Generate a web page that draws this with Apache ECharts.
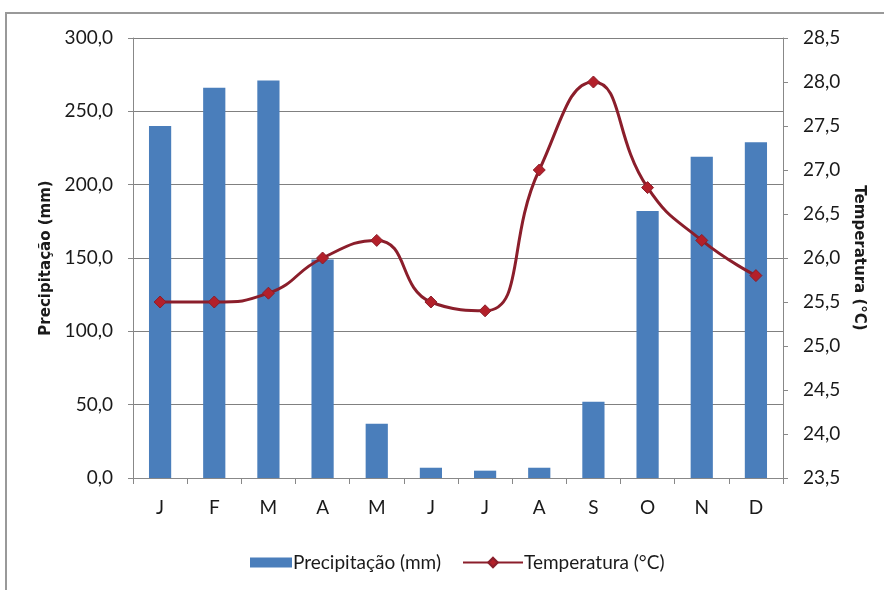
<!DOCTYPE html>
<html><head><meta charset="utf-8">
<script src="https://cdn.jsdelivr.net/npm/echarts@6/dist/echarts.min.js"></script>
<style>html,body{margin:0;padding:0;background:#fff}#c{width:884px;height:590px}</style>
</head><body><div id="c"></div>
<script>
const months = ['J','F','M','A','M','J','J','A','S','O','N','D'];
const precipitacao = [240, 266, 271, 149, 37, 7, 5, 7, 52, 182, 219, 229];
const temperatura = [25.5, 25.5, 25.6, 26.0, 26.2, 25.5, 25.4, 27.0, 28.0, 26.8, 26.2, 25.8];
const fmt = v => v.toFixed(1).replace('.', ',');
const tickFont = {fontFamily:'Lato,"Noto Sans",sans-serif', fontSize:19, color:'#1a1a1a'};
const titleFont = {fontFamily:'"DejaVu Sans",sans-serif', fontWeight:'bold', fontSize:15, color:'#1a1a1a'};
const chart = echarts.init(document.getElementById('c'));
chart.setOption({
  animation:false,
  backgroundColor:'#fff',
  graphic:[{type:'rect', shape:{x:6,y:13,width:900,height:600}, style:{fill:'none', stroke:'#999', lineWidth:2}}],
  grid:{left:133, right:101, top:38, bottom:112},
  legend:[
    {left:245, top:548, itemWidth:42, itemHeight:10, textStyle:Object.assign({}, tickFont, {fontSize:19, padding:[0,0,0,-4]}),
      data:[{name:'Precipitação (mm)', icon:'rect'}]},
    {left:457, top:548, itemWidth:60, itemHeight:12, textStyle:Object.assign({}, tickFont, {fontSize:19, padding:[0,0,0,-4]}),
      data:[{name:'Temperatura (°C)'}]}
  ],
  xAxis:{type:'category', data:months, boundaryGap:true,
    axisLine:{lineStyle:{color:'#888'}}, axisTick:{show:true, length:6, lineStyle:{color:'#888'}},
    axisLabel:Object.assign({margin:20}, tickFont)},
  yAxis:[
    {type:'value', min:0, max:300, interval:50, position:'left',
      name:'Precipitação (mm)', nameLocation:'middle', nameGap:75, nameRotate:90,
      nameTextStyle:titleFont,
      axisLine:{show:true, lineStyle:{color:'#888'}}, axisTick:{show:true, length:5, lineStyle:{color:'#888'}},
      splitLine:{show:true, lineStyle:{color:'#808080', width:1}},
      axisLabel:Object.assign({margin:20, formatter:fmt}, tickFont)},
    {type:'value', min:23.5, max:28.5, interval:0.5, position:'right',
      name:'Temperatura (°C)', nameLocation:'middle', nameGap:67, nameRotate:-90,
      nameTextStyle:titleFont,
      axisLine:{show:true, lineStyle:{color:'#888'}}, axisTick:{show:true, length:5, lineStyle:{color:'#888'}},
      splitLine:{show:false},
      axisLabel:Object.assign({margin:20, formatter:fmt}, tickFont)}
  ],
  series:[
    {name:'Precipitação (mm)', type:'bar', data:precipitacao, yAxisIndex:0, barWidth:'41%',
      itemStyle:{color:'#4a7ebb'}},
    {name:'Temperatura (°C)', type:'line', data:temperatura, yAxisIndex:1, smooth:0.5,
      symbol:'diamond', symbolSize:12,
      lineStyle:{color:'#8b1e2b', width:3}, itemStyle:{color:'#b3202a', borderColor:'#8b1e2b', borderWidth:1}}
  ]
});
</script></body></html>
